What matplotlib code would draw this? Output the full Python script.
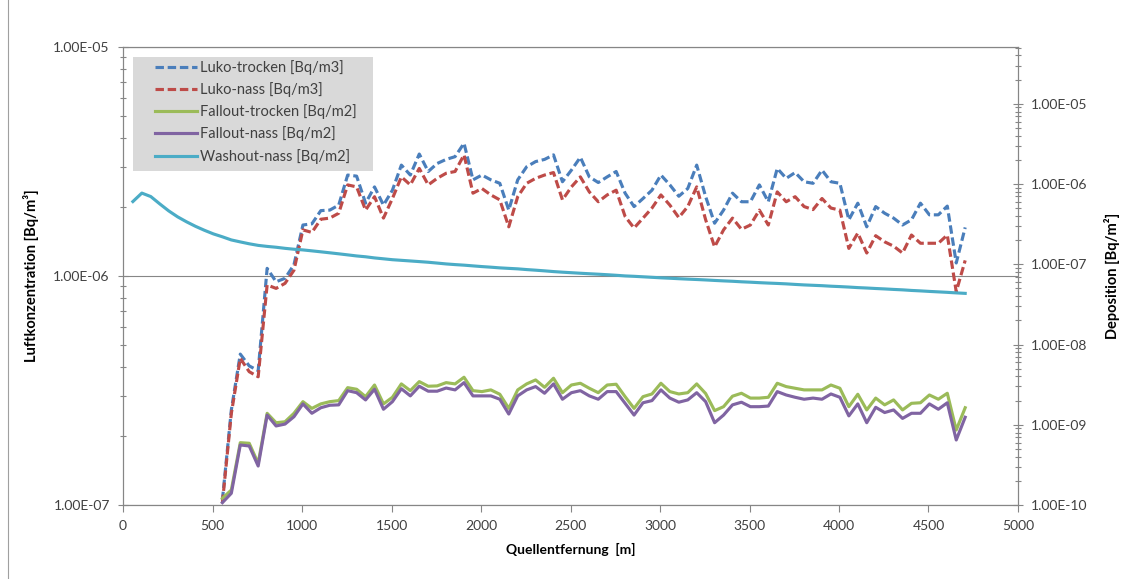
import numpy as np
import matplotlib
matplotlib.use("Agg")
import matplotlib.pyplot as plt
from matplotlib.ticker import FuncFormatter, LogLocator, NullFormatter
from matplotlib.patches import Rectangle
from matplotlib.lines import Line2D

plt.rcParams['font.family'] = ['Lato', 'DejaVu Sans']

# distances [m], 50 m grid
dist = np.arange(55, 4706, 50)

# air concentration [Bq/m3], from 555 m on
luko_trocken = [
    1.05e-7, 2.60e-7, 4.56e-7, 4.05e-7, 3.86e-7, 1.08e-6, 9.44e-7, 9.77e-7, 1.12e-6, 1.67e-6,
    1.69e-6, 1.93e-6, 1.94e-6, 2.04e-6, 2.76e-6, 2.73e-6, 2.08e-6, 2.45e-6, 2.04e-6, 2.37e-6,
    3.05e-6, 2.76e-6, 3.41e-6, 2.86e-6, 3.10e-6, 3.23e-6, 3.32e-6, 3.80e-6, 2.63e-6, 2.76e-6,
    2.63e-6, 2.54e-6, 1.94e-6, 2.63e-6, 3.00e-6, 3.16e-6, 3.23e-6, 3.38e-6, 2.58e-6, 2.90e-6,
    3.30e-6, 2.71e-6, 2.56e-6, 2.71e-6, 2.86e-6, 2.30e-6, 2.01e-6, 2.18e-6, 2.37e-6, 2.76e-6,
    2.50e-6, 2.23e-6, 2.41e-6, 3.05e-6, 2.22e-6, 1.70e-6, 1.94e-6, 2.30e-6, 2.11e-6, 2.11e-6,
    2.50e-6, 2.11e-6, 2.95e-6, 2.67e-6, 2.83e-6, 2.58e-6, 2.54e-6, 2.90e-6, 2.58e-6, 2.54e-6,
    1.76e-6, 2.08e-6, 1.64e-6, 2.01e-6, 1.88e-6, 1.79e-6, 1.67e-6, 1.76e-6, 2.08e-6, 1.85e-6,
    1.85e-6, 2.02e-6, 1.14e-6, 1.63e-6]
luko_nass = [
    1.02e-7, 2.51e-7, 4.37e-7, 3.82e-7, 3.63e-7, 9.14e-7, 8.83e-7, 9.29e-7, 1.06e-6, 1.59e-6,
    1.55e-6, 1.77e-6, 1.79e-6, 1.88e-6, 2.50e-6, 2.45e-6, 1.94e-6, 2.22e-6, 1.79e-6, 2.18e-6,
    2.71e-6, 2.50e-6, 2.95e-6, 2.50e-6, 2.67e-6, 2.81e-6, 2.86e-6, 3.38e-6, 2.30e-6, 2.41e-6,
    2.26e-6, 2.15e-6, 1.64e-6, 2.22e-6, 2.54e-6, 2.67e-6, 2.76e-6, 2.83e-6, 2.15e-6, 2.45e-6,
    2.71e-6, 2.33e-6, 2.11e-6, 2.26e-6, 2.37e-6, 1.82e-6, 1.62e-6, 1.79e-6, 1.98e-6, 2.26e-6,
    2.04e-6, 1.80e-6, 2.01e-6, 2.45e-6, 1.76e-6, 1.34e-6, 1.59e-6, 1.79e-6, 1.60e-6, 1.67e-6,
    1.94e-6, 1.67e-6, 2.33e-6, 2.11e-6, 2.22e-6, 2.01e-6, 1.95e-6, 2.18e-6, 1.98e-6, 1.94e-6,
    1.32e-6, 1.54e-6, 1.26e-6, 1.50e-6, 1.41e-6, 1.35e-6, 1.26e-6, 1.51e-6, 1.39e-6, 1.39e-6,
    1.39e-6, 1.51e-6, 8.54e-7, 1.17e-6]

# deposition [Bq/m2], from 555 m on
fallout_trocken = [
    1.21e-10, 1.54e-10, 5.98e-10, 5.88e-10, 3.31e-10, 1.39e-9, 1.06e-9, 1.09e-9, 1.39e-9, 1.94e-9,
    1.60e-9, 1.82e-9, 1.94e-9, 2.00e-9, 2.90e-9, 2.77e-9, 2.24e-9, 3.13e-9, 1.82e-9, 2.20e-9,
    3.23e-9, 2.66e-9, 3.45e-9, 3.02e-9, 3.05e-9, 3.35e-9, 3.23e-9, 3.91e-9, 2.66e-9, 2.59e-9,
    2.72e-9, 2.40e-9, 1.60e-9, 2.72e-9, 3.23e-9, 3.62e-9, 2.93e-9, 3.80e-9, 2.51e-9, 3.13e-9,
    3.29e-9, 2.85e-9, 2.51e-9, 3.13e-9, 3.20e-9, 2.24e-9, 1.60e-9, 2.24e-9, 2.42e-9, 3.29e-9,
    2.59e-9, 2.42e-9, 2.51e-9, 3.23e-9, 2.45e-9, 1.50e-9, 1.68e-9, 2.27e-9, 2.47e-9, 2.15e-9,
    2.15e-9, 2.20e-9, 3.29e-9, 2.99e-9, 2.85e-9, 2.72e-9, 2.72e-9, 2.72e-9, 3.13e-9, 2.85e-9,
    1.68e-9, 2.40e-9, 1.53e-9, 2.15e-9, 1.77e-9, 2.04e-9, 1.53e-9, 1.85e-9, 1.88e-9, 2.35e-9,
    2.08e-9, 2.47e-9, 8.60e-10, 1.63e-9]
fallout_nass = [
    1.07e-10, 1.40e-10, 5.60e-10, 5.44e-10, 3.06e-10, 1.32e-9, 9.66e-10, 1.02e-9, 1.26e-9, 1.82e-9,
    1.39e-9, 1.63e-9, 1.75e-9, 1.77e-9, 2.66e-9, 2.51e-9, 2.04e-9, 2.77e-9, 1.56e-9, 1.94e-9,
    2.81e-9, 2.29e-9, 3.02e-9, 2.62e-9, 2.62e-9, 2.87e-9, 2.72e-9, 3.35e-9, 2.29e-9, 2.29e-9,
    2.29e-9, 2.08e-9, 1.36e-9, 2.29e-9, 2.72e-9, 2.99e-9, 2.47e-9, 3.23e-9, 2.08e-9, 2.51e-9,
    2.66e-9, 2.29e-9, 2.08e-9, 2.59e-9, 2.59e-9, 1.85e-9, 1.32e-9, 1.88e-9, 2.00e-9, 2.72e-9,
    2.15e-9, 1.91e-9, 2.04e-9, 2.51e-9, 1.94e-9, 1.06e-9, 1.32e-9, 1.77e-9, 1.91e-9, 1.68e-9,
    1.68e-9, 1.71e-9, 2.59e-9, 2.35e-9, 2.20e-9, 2.08e-9, 2.15e-9, 2.08e-9, 2.42e-9, 2.20e-9,
    1.29e-9, 1.82e-9, 1.06e-9, 1.65e-9, 1.42e-9, 1.53e-9, 1.20e-9, 1.39e-9, 1.39e-9, 1.82e-9,
    1.56e-9, 1.88e-9, 6.46e-10, 1.24e-9]
# washout deposition [Bq/m2], full range
washout_nass = [
    6.05e-7, 7.71e-7, 6.98e-7, 5.66e-7, 4.63e-7, 3.90e-7, 3.38e-7, 2.97e-7, 2.65e-7, 2.39e-7,
    2.20e-7, 2.01e-7, 1.90e-7, 1.80e-7, 1.72e-7, 1.67e-7, 1.63e-7, 1.58e-7, 1.54e-7, 1.51e-7,
    1.47e-7, 1.43e-7, 1.39e-7, 1.35e-7, 1.31e-7, 1.27e-7, 1.24e-7, 1.20e-7, 1.17e-7, 1.14e-7,
    1.12e-7, 1.10e-7, 1.08e-7, 1.06e-7, 1.035e-7, 1.01e-7, 9.91e-8, 9.75e-8, 9.55e-8, 9.36e-8,
    9.20e-8, 9.02e-8, 8.89e-8, 8.77e-8, 8.59e-8, 8.44e-8, 8.28e-8, 8.11e-8, 7.97e-8, 7.85e-8,
    7.73e-8, 7.62e-8, 7.52e-8, 7.41e-8, 7.29e-8, 7.16e-8, 7.08e-8, 6.98e-8, 6.88e-8, 6.78e-8,
    6.70e-8, 6.61e-8, 6.53e-8, 6.46e-8, 6.38e-8, 6.29e-8, 6.21e-8, 6.14e-8, 6.05e-8, 5.98e-8,
    5.90e-8, 5.83e-8, 5.77e-8, 5.70e-8, 5.61e-8, 5.53e-8, 5.47e-8, 5.41e-8, 5.33e-8, 5.27e-8,
    5.20e-8, 5.12e-8, 5.06e-8, 4.99e-8, 4.93e-8, 4.86e-8, 4.80e-8, 4.72e-8, 4.66e-8, 4.59e-8,
    4.53e-8, 4.47e-8, 4.40e-8, 4.34e-8]

x_part = dist[-len(luko_trocken):]

grey = '#868686'
txt = '#404040'

fig = plt.figure(figsize=(11.34, 5.79), dpi=100)
ax = fig.add_axes([0.1085, 0.1278, 0.7892, 0.791])
ax2 = ax.twinx()

dash = (2.7, 1.2)
ax.plot(x_part, luko_trocken, color='#4a7ebb', lw=2.25, dashes=dash, label='Luko-trocken [Bq/m3]')
ax.plot(x_part, luko_nass, color='#be4b48', lw=2.25, dashes=dash, label='Luko-nass [Bq/m3]')
ax2.plot(x_part, fallout_trocken, color='#9bbb59', lw=2.25, label='Fallout-trocken [Bq/m2]')
ax2.plot(x_part, fallout_nass, color='#8064a2', lw=2.25, label='Fallout-nass [Bq/m2]')
ax2.plot(dist, washout_nass, color='#4bacc6', lw=2.25, label='Washout-nass [Bq/m2]')

ax.set_yscale('log')
ax2.set_yscale('log')
ax.set_xlim(0, 5000)
ax.set_ylim(1e-7, 1e-5)
ax2.set_ylim(1e-10, 5.1e-5)

fmt = FuncFormatter(lambda v, p: f"{v:.2E}")
for a in (ax, ax2):
    a.yaxis.set_major_locator(LogLocator(base=10, numticks=20))
    a.yaxis.set_minor_locator(LogLocator(base=10, subs=np.arange(2, 10), numticks=20))
    a.yaxis.set_major_formatter(fmt)
    a.yaxis.set_minor_formatter(NullFormatter())
    a.tick_params(axis='y', which='major', direction='inout', length=7, width=0.8,
                  color=grey, labelcolor=txt, labelsize=10, pad=6)
    a.tick_params(axis='y', which='minor', direction='inout', length=5, width=0.8, color=grey)
    for s in a.spines.values():
        s.set_color(grey)
        s.set_linewidth(0.8)

ax.set_xticks(np.arange(0, 5001, 500))
ax.tick_params(axis='x', direction='out', length=5, width=0.8, color=grey,
               labelcolor=txt, labelsize=10, pad=6)

ax.yaxis.grid(True, which='major', color=grey, lw=0.8)
ax.set_axisbelow(True)

ax.set_xlabel('Quellentfernung  [m]', fontsize=10, fontweight='bold', color='black', labelpad=8)
ax.set_ylabel('Luftkonzentration [Bq/m³]', fontsize=10.5, fontweight='bold', color='black', labelpad=10)
ax2.set_ylabel('Deposition [Bq/m²]', fontsize=10.5, fontweight='bold', color='black', labelpad=12)

# legend box
ax2.add_patch(Rectangle((0.011, 0.729), 0.268, 0.249, transform=ax2.transAxes,
                        facecolor='#d9d9d9', edgecolor='none', zorder=3))
h1, l1 = ax.get_legend_handles_labels()
h2, l2 = ax2.get_legend_handles_labels()
leg = ax2.legend(h1 + h2, l1 + l2, loc='upper left', bbox_to_anchor=(0.0358, 0.972),
                 frameon=False, fontsize=10.5, handlelength=2.9, handletextpad=0.2,
                 labelspacing=0.5, borderpad=0, borderaxespad=0)
leg.set_zorder(4)
for t in leg.get_texts():
    t.set_color(txt)

fig.add_artist(Line2D([0.007, 0.007], [0.0, 1.0], color='#a0a0a0', lw=0.8))

fig.savefig('out.png', dpi=100)
